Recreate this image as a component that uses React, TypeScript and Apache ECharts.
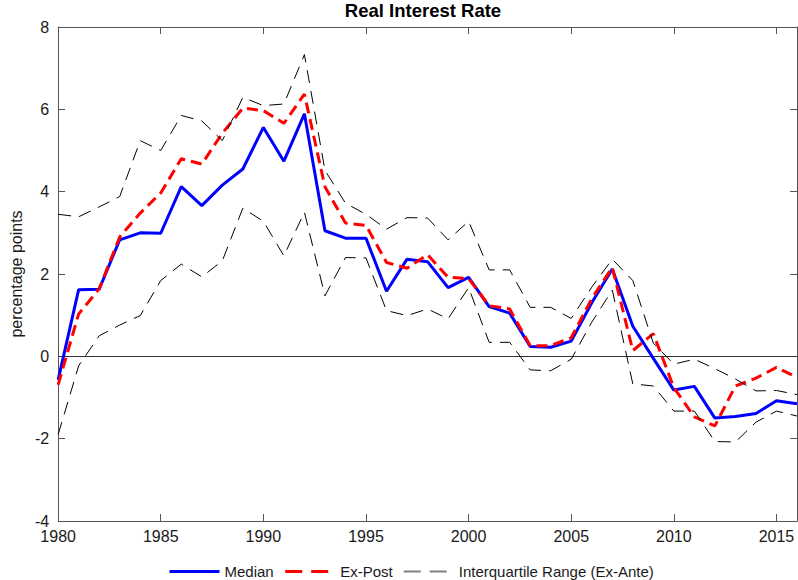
import React, { useEffect, useRef } from "react";
import * as echarts from "echarts";

// Annual observations, 1980–2016
const years = [
  1980, 1981, 1982, 1983, 1984, 1985, 1986, 1987, 1988, 1989,
  1990, 1991, 1992, 1993, 1994, 1995, 1996, 1997, 1998, 1999,
  2000, 2001, 2002, 2003, 2004, 2005, 2006, 2007, 2008, 2009,
  2010, 2011, 2012, 2013, 2014, 2015, 2016,
];

// Median real interest rate (percentage points)
const median = [
  -0.57, 1.62, 1.63, 2.83, 3.0, 2.99, 4.12, 3.66, 4.16, 4.55,
  5.56, 4.74, 5.89, 3.05, 2.87, 2.87, 1.58, 2.36, 2.3, 1.67,
  1.92, 1.21, 1.05, 0.24, 0.22, 0.37, 1.3, 2.12, 0.73, -0.05,
  -0.82, -0.73, -1.5, -1.46, -1.39, -1.08, -1.15,
];

// Ex-post real interest rate
const exPost = [
  -0.69, 1.03, 1.64, 2.9, 3.48, 3.97, 4.8, 4.67, 5.42, 6.03,
  5.97, 5.66, 6.37, 4.12, 3.24, 3.18, 2.28, 2.14, 2.47, 1.92,
  1.89, 1.23, 1.15, 0.26, 0.26, 0.45, 1.4, 2.16, 0.14, 0.55,
  -0.76, -1.47, -1.69, -0.72, -0.53, -0.27, -0.51,
];

// Interquartile range of the ex-ante rate: upper and lower quartiles
const upperQuartile = [
  3.45, 3.39, 3.63, 3.88, 5.24, 5.0, 5.85, 5.72, 5.24, 6.29,
  6.09, 6.13, 7.33, 4.52, 3.72, 3.45, 3.09, 3.37, 3.36, 2.83,
  3.28, 2.1, 2.1, 1.19, 1.19, 0.92, 1.68, 2.36, 1.84, 0.32,
  -0.19, -0.07, -0.3, -0.55, -0.84, -0.83, -0.93,
];

const lowerQuartile = [
  -1.9, -0.23, 0.5, 0.76, 0.99, 1.84, 2.24, 1.93, 2.32, 3.6,
  3.28, 2.44, 3.5, 1.47, 2.4, 2.39, 1.11, 0.99, 1.15, 0.91,
  1.67, 0.34, 0.34, -0.33, -0.35, -0.07, 0.83, 1.61, -0.67, -0.72,
  -1.33, -1.33, -2.07, -2.08, -1.6, -1.33, -1.45,
];

const xTicks = [1980, 1985, 1990, 1995, 2000, 2005, 2010, 2015];

const FONT = "Liberation Sans, Arial, sans-serif";
const AXIS_COLOR = "#555";
const TEXT_COLOR = "#1a1a1a";
const IQR_NAME = "Interquartile Range (Ex-Ante)";

const pairs = (vals: number[]) => years.map((y, i) => [y, vals[i]]);

export default function App() {
  const ref = useRef<HTMLDivElement>(null);

  useEffect(() => {
    if (!ref.current) return;
    const chart = echarts.init(ref.current, null, { renderer: "svg" });

    const tickStyle = { inside: true, length: 7, lineStyle: { color: AXIS_COLOR, width: 1 } };
    const axisLine = { show: true, onZero: false, lineStyle: { color: AXIS_COLOR, width: 1 } };
    const hiddenMarker = { opacity: 0 };

    chart.setOption({
      animation: false,
      backgroundColor: "#ffffff",
      title: {
        text: "Real Interest Rate",
        left: 423,
        top: 1,
        padding: 0,
        textAlign: "center",
        textStyle: {
          fontFamily: FONT,
          fontWeight: "bold",
          fontSize: 18.5,
          color: "#000",
        },
      },
      grid: { left: 53, right: 1, top: 27, bottom: 59, containLabel: false },
      legend: {
        left: 168,
        top: 564,
        padding: 0,
        itemWidth: 50,
        itemHeight: 14,
        itemGap: 10,
        textStyle: { fontFamily: FONT, fontSize: 15, color: TEXT_COLOR },
        data: [
          {
            name: "Median",
            itemStyle: hiddenMarker,
            lineStyle: { color: "#0000ff", width: 3, type: "solid", opacity: 1 },
          },
          {
            name: "Ex-Post",
            itemStyle: hiddenMarker,
            lineStyle: { color: "#ff0000", width: 3, type: [17, 9], opacity: 1 },
          },
          {
            name: IQR_NAME,
            itemStyle: hiddenMarker,
            lineStyle: { color: "#808080", width: 2, type: [17, 9], opacity: 1 },
          },
        ],
      },
      xAxis: [
        {
          type: "value",
          min: 1980,
          max: 2016,
          interval: 5,
          position: "bottom",
          axisLine,
          axisTick: tickStyle,
          splitLine: { show: false },
          axisLabel: {
            fontFamily: FONT,
            fontSize: 16,
            color: TEXT_COLOR,
            margin: 7,
            showMaxLabel: false,
            formatter: (v: number) => (xTicks.includes(v) ? String(v) : ""),
          },
        },
        {
          type: "value",
          min: 1980,
          max: 2016,
          interval: 5,
          position: "top",
          axisLine,
          axisTick: tickStyle,
          splitLine: { show: false },
          axisLabel: { show: false },
        },
      ],
      yAxis: [
        {
          type: "value",
          min: -4,
          max: 8,
          interval: 2,
          position: "left",
          name: "percentage points",
          nameLocation: "middle",
          nameGap: 24,
          nameTextStyle: { fontFamily: FONT, fontSize: 16, color: TEXT_COLOR },
          axisLine,
          axisTick: tickStyle,
          splitLine: { show: false },
          axisLabel: { fontFamily: FONT, fontSize: 16, color: TEXT_COLOR, margin: 9 },
        },
        {
          type: "value",
          min: -4,
          max: 8,
          interval: 2,
          position: "right",
          axisLine,
          axisTick: tickStyle,
          splitLine: { show: false },
          axisLabel: { show: false },
        },
      ],
      series: [
        {
          name: "Median",
          type: "line",
          data: pairs(median),
          symbol: "none",
          lineStyle: { color: "#0000ff", width: 3 },
          itemStyle: { color: "#0000ff" },
          markLine: {
            silent: true,
            symbol: "none",
            label: { show: false },
            lineStyle: { color: "#333", width: 1, type: "solid" },
            data: [{ yAxis: 0 }],
            z: 1,
          },
          z: 3,
        },
        {
          name: "Ex-Post",
          type: "line",
          data: pairs(exPost),
          symbol: "none",
          lineStyle: { color: "#ff0000", width: 3, type: [11, 6] },
          itemStyle: { color: "#ff0000" },
          z: 4,
        },
        {
          name: IQR_NAME,
          type: "line",
          data: pairs(upperQuartile),
          symbol: "none",
          lineStyle: { color: "#000", width: 1, type: [13, 8] },
          itemStyle: { color: "#808080" },
          z: 5,
        },
        {
          name: IQR_NAME,
          type: "line",
          data: pairs(lowerQuartile),
          symbol: "none",
          lineStyle: { color: "#000", width: 1, type: [13, 8] },
          itemStyle: { color: "#808080" },
          z: 5,
        },
      ],
    });

    return () => chart.dispose();
  }, []);

  return (
    <div
      ref={ref}
      style={{ position: "fixed", left: 0, top: 0, width: 798, height: 580 }}
    />
  );
}
